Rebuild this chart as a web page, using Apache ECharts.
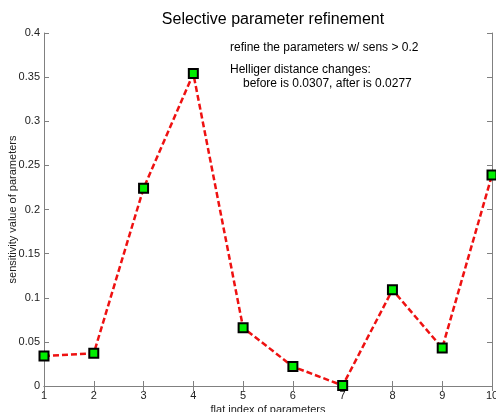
<!DOCTYPE html>
<html>
<head>
<meta charset="utf-8">
<script src="https://cdn.jsdelivr.net/npm/echarts@6/dist/echarts.min.js"></script>
<style>html,body{margin:0;padding:0;background:#fff}#c{width:496px;height:412px}</style>
</head>
<body>
<div id="c"></div>
<script>
var xIndex = [1, 2, 3, 4, 5, 6, 7, 8, 9, 10];
var sensitivity = [0.034, 0.037, 0.224, 0.354, 0.066, 0.022, 0.0005, 0.109, 0.043, 0.239];
var titleText = 'Selective parameter refinement';
var note1 = 'refine the parameters w/ sens > 0.2';
var note2 = 'Helliger distance changes:';
var note3 = 'before is 0.0307, after is 0.0277';

var font = 'Liberation Sans, Arial, sans-serif';
var axisColor = '#808080';
var chart = echarts.init(document.getElementById('c'));
var data = xIndex.map(function (x, i) { return [x, sensitivity[i]]; });
var baseAxis = {
  axisLine: { show: true, lineStyle: { color: axisColor, width: 1 } },
  axisTick: { show: true, inside: true, length: 5, lineStyle: { color: axisColor } },
  splitLine: { show: false },
  axisLabel: { color: '#222', fontSize: 11, fontFamily: font }
};
chart.setOption({
  animation: false,
  backgroundColor: '#fff',
  title: {
    text: titleText, left: 268, textAlign: 'center', top: 7,
    textStyle: { fontSize: 16, fontWeight: 'normal', color: '#000', fontFamily: font }
  },
  grid: { left: 44, top: 33, right: 4, bottom: 26, containLabel: false, outerBoundsMode: 'none' },
  xAxis: [
    Object.assign({}, baseAxis, {
      type: 'value', min: 1, max: 10, interval: 1, position: 'bottom',
      name: 'flat index of parameters', nameLocation: 'middle', nameGap: 18,
      nameMoveOverlap: false,
      nameTextStyle: { fontSize: 11, color: '#222', fontFamily: font },
      axisLabel: Object.assign({}, baseAxis.axisLabel, { margin: 4 })
    }),
    Object.assign({}, baseAxis, {
      type: 'value', min: 1, max: 10, interval: 1, position: 'top',
      axisLabel: { show: false }
    })
  ],
  yAxis: [
    Object.assign({}, baseAxis, {
      type: 'value', min: 0, max: 0.4, interval: 0.05, position: 'left',
      name: 'sensitivity value of parameters', nameLocation: 'middle', nameGap: 26,
      nameMoveOverlap: false,
      nameTextStyle: { fontSize: 11, color: '#222', fontFamily: font },
      axisLabel: Object.assign({}, baseAxis.axisLabel, { margin: 4 })
    }),
    Object.assign({}, baseAxis, {
      type: 'value', min: 0, max: 0.4, interval: 0.05, position: 'right',
      axisLabel: { show: false }
    })
  ],
  series: [{
    type: 'line',
    data: data,
    symbol: 'rect',
    symbolSize: 9,
    lineStyle: { color: '#ee1111', width: 2.5, type: [6, 3] },
    itemStyle: { color: '#00ee00', borderColor: '#000', borderWidth: 2 },
    clip: false,
    z: 5
  }],
  graphic: [
    { type: 'text', left: 230, top: 42, style: { text: note1, fontSize: 12, fontFamily: font, fill: '#000' } },
    { type: 'text', left: 230, top: 64, style: { text: note2, fontSize: 12, fontFamily: font, fill: '#000' } },
    { type: 'text', left: 243, top: 78, style: { text: note3, fontSize: 12, fontFamily: font, fill: '#000' } }
  ]
});
</script>
</body>
</html>
